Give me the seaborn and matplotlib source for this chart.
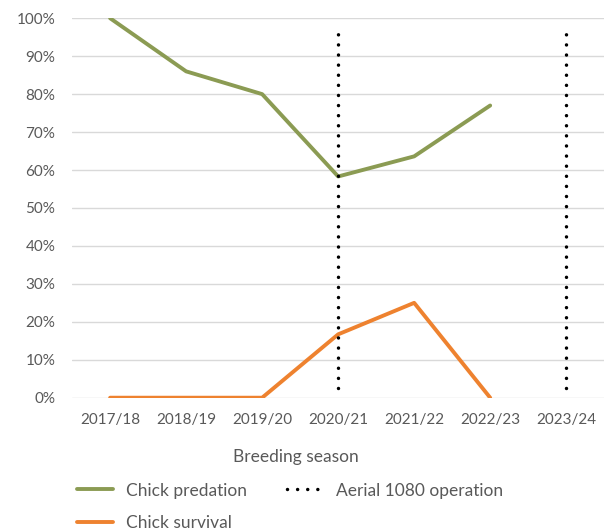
import matplotlib
matplotlib.use("Agg")
import matplotlib.pyplot as plt
import matplotlib.ticker as mticker
from matplotlib.lines import Line2D
import seaborn as sns
import pandas as pd

seasons = ["2017/18", "2018/19", "2019/20", "2020/21", "2021/22", "2022/23", "2023/24"]
predation = [100, 86, 80, 58.3, 63.6, 77.0, None]
survival = [0, 0, 0, 16.7, 25.0, 0, None]
aerial_ops = ["2020/21", "2023/24"]
aerial_span = [2.5, 96]

green = "#8B9B53"
orange = "#EE822F"
grey = "#595959"

sns.set_style("white")
plt.rcParams["font.family"] = ["Lato", "DejaVu Sans"]
plt.rcParams["font.size"] = 11

df = pd.DataFrame({
    "season": seasons * 2,
    "value": predation + survival,
    "series": ["Chick predation"] * len(seasons) + ["Chick survival"] * len(seasons),
})
df["x"] = df["season"].map({s: i for i, s in enumerate(seasons)})
df = df.dropna()

fig = plt.figure(figsize=(6.06, 5.30), dpi=100)
ax = fig.add_axes([0.119, 0.2496, 0.878, 0.716])

sns.lineplot(data=df, x="x", y="value", hue="series",
             palette={"Chick predation": green, "Chick survival": orange},
             linewidth=2.8, ax=ax, legend=False, zorder=3)

dots = (0, (0.01, 2.9))
for s in aerial_ops:
    i = seasons.index(s)
    ax.plot([i, i], aerial_span, color="black", linewidth=2.5,
            linestyle=dots, dash_capstyle="round", zorder=4)

ax.set_xlim(-0.5, len(seasons) - 0.5)
ax.set_ylim(0, 100)
ax.set_xticks(range(len(seasons)))
ax.set_xticklabels(seasons)
ax.set_yticks(range(0, 101, 10))
ax.yaxis.set_major_formatter(mticker.FuncFormatter(lambda v, p: f"{int(v)}%"))
ax.grid(axis="y", color="#D9D9D9", linewidth=1)
ax.set_axisbelow(True)
for sp in ax.spines.values():
    sp.set_visible(False)
ax.tick_params(axis="both", length=0, colors=grey, labelsize=11)
ax.tick_params(axis="y", pad=12)
ax.tick_params(axis="x", pad=11)
ax.set_xlabel("Breeding season", color=grey, fontsize=12.5)
ax.xaxis.set_label_coords(0.42, -0.135)
ax.set_ylabel("")

handles = [
    Line2D([], [], color=green, linewidth=2.8),
    Line2D([], [], color=orange, linewidth=2.8),
    Line2D([], [], color="black", linewidth=2.5, linestyle=dots,
           dash_capstyle="round"),
]
labels = ["Chick predation", "Chick survival", "Aerial 1080 operation"]
leg = fig.legend(handles, labels, ncol=2, loc="upper left",
                 bbox_to_anchor=(0.112, 0.106), frameon=False, borderpad=0,
                 handlelength=2.1, handletextpad=0.75, columnspacing=2.3,
                 labelspacing=0.95, fontsize=12.5)
for t in leg.get_texts():
    t.set_color(grey)

fig.savefig("out.png", dpi=100)
